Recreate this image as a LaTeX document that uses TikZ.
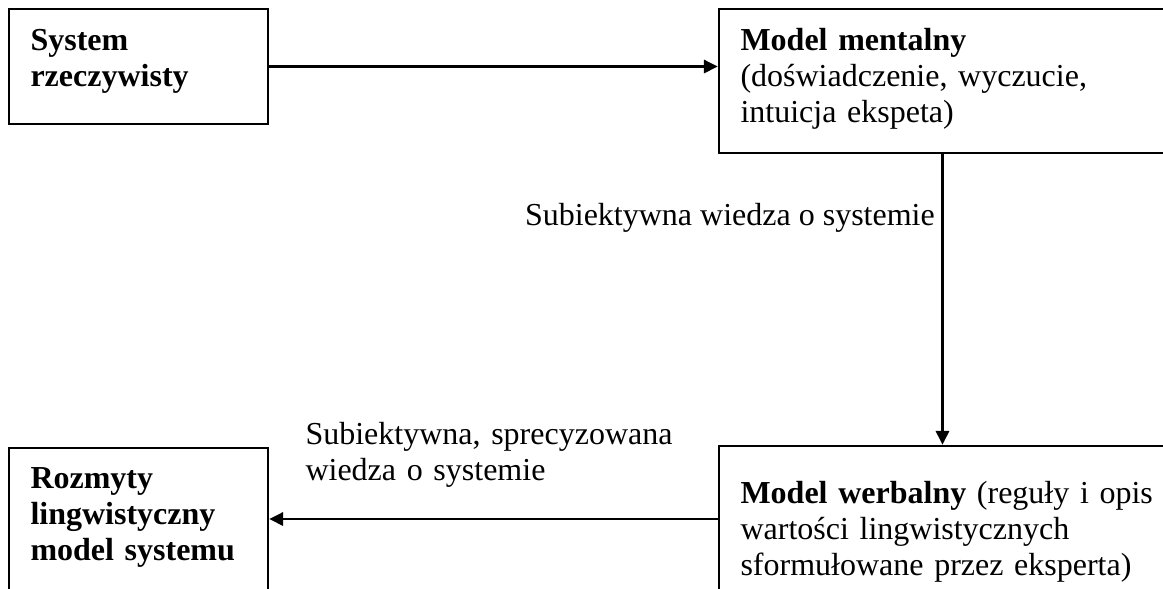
\documentclass[tikz,border=0pt]{standalone}
\usepackage{fontspec}
\setmainfont{Liberation Serif}
\usetikzlibrary{arrows.meta,positioning,fit}

\begin{document}
\begin{tikzpicture}[x=0.375pt,y=-0.375pt,>={Triangle[length=5.2pt,width=5pt]},
  every node/.style={font=\fontsize{12}{13.6}\selectfont},
  box/.style={draw,line width=0.95pt,inner sep=0pt},
  txt/.style={inner sep=0pt,anchor=base west,align=left,text width=#1},
  arr/.style={->,line width=0.8pt}]
\useasboundingbox (0,0) rectangle (1163,588);
\clip (0,0) rectangle (1163,588);
% boxes
\node[box,fit={(9,9) (268,124)}] (sys) {};
\node[box,fit={(719,9) (1166,153)}] (ment) {};
\node[box,fit={(719,446) (1166,592)}] (werb) {};
\node[box,fit={(9,448) (268,592)}] (rozm) {};
% texts
\node[txt=230] at (30,50) {\textbf{System}\\\textbf{rzeczywisty}};
\node[txt=420] at (740,50) {\textbf{Model mentalny}\\(doświadczenie, wyczucie,\\intuicja ekspeta)};
\node[txt=420] at (740,503) {\textbf{Model werbalny} (reguły i opis\\wartości lingwistycznych\\sformułowane przez eksperta)};
\node[txt=230] at (30,488) {\textbf{Rozmyty}\\\textbf{lingwistyczny}\\\textbf{model systemu}};
% connectors
\draw[arr] (sys.east) -- (sys.east -| ment.west);
\draw[arr] (ment.south) -- node[pos=0.246,anchor=base east,inner sep=0pt,xshift=-2.5pt] (lab1) {Subiektywna wiedza o systemie} (werb.north);
\draw[arr] (werb.west) -- (werb.west -| rozm.east);
\node[txt=400] (lab2) at (305,444) {Subiektywna, sprecyzowana\\wiedza o systemie};
\end{tikzpicture}
\end{document}
